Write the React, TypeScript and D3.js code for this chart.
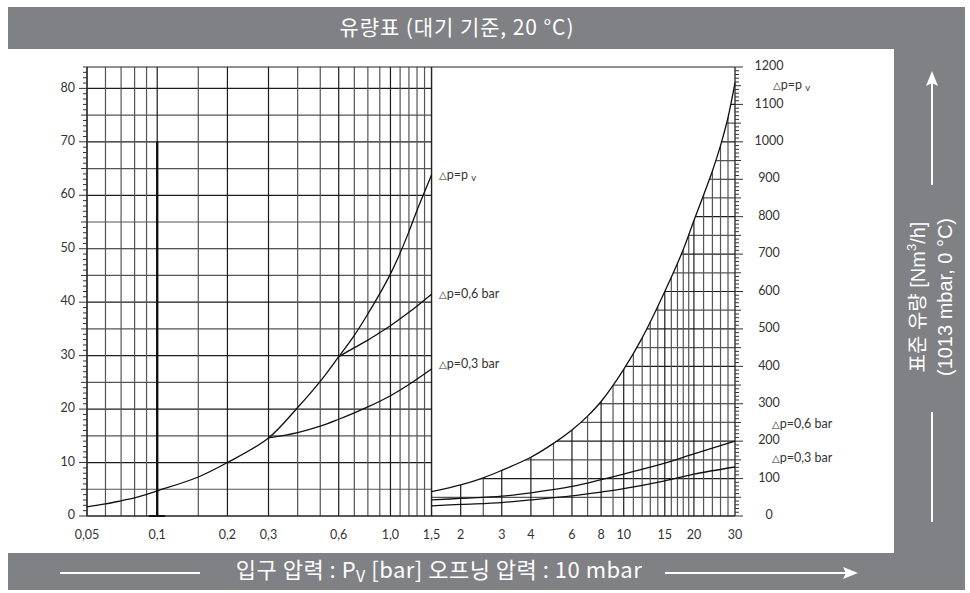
import React from "react";
import * as d3 from "d3";

// ---------- data ----------
const xTickValues = [0.05, 0.1, 0.2, 0.3, 0.6, 1.0, 1.5, 2, 3, 4, 6, 8, 10, 15, 20, 30];
const xTickLabels = ["0,05", "0,1", "0,2", "0,3", "0,6", "1,0", "1,5", "2", "3", "4", "6", "8", "10", "15", "20", "30"];

const leftGridX = [0.05, 0.06, 0.07, 0.08, 0.09, 0.1, 0.15, 0.2, 0.3, 0.4, 0.5, 0.6, 0.7, 0.8, 0.9, 1.0, 1.1, 1.2, 1.3, 1.4, 1.5];
const leftMajorX = [0.1, 0.2, 0.3, 0.6, 1.0];
const rightGridX = [2, 2.5, 3, 4, 5, 6, 7, 8, 9, 10, 11, 12, 13, 14, 15, 16, 17, 18, 19, 20, 22, 24, 26, 28];
const rightMajorX = [2, 3, 4, 6, 8, 10, 15, 20];

const leftYTicks = [0, 10, 20, 30, 40, 50, 60, 70, 80];
const rightYTicks = [0, 100, 200, 300, 400, 500, 600, 700, 800, 900, 1000, 1100, 1200];

// left panel curves (Nm3/h, 0..84 scale)
const leftPvP = [0.05, 0.06, 0.07, 0.08, 0.1, 0.15, 0.2, 0.3, 0.4, 0.5, 0.6, 0.7, 0.8, 0.9, 1.0, 1.1, 1.2, 1.3, 1.5];
const leftPvQ = [1.7, 2.25, 2.85, 3.4, 4.7, 7.3, 10.0, 14.6, 20.3, 25.2, 29.8, 33.8, 37.8, 41.6, 45.3, 49.2, 53.2, 57.2, 63.8];
const left06P = [0.6, 0.7, 0.8, 0.9, 1.0, 1.2, 1.5];
const left06Q = [29.8, 31.5, 32.9, 34.3, 35.6, 38.1, 41.5];
const left03P = [0.3, 0.4, 0.5, 0.6, 0.7, 0.8, 1.0, 1.2, 1.5];
const left03Q = [14.6, 15.6, 16.8, 18.1, 19.3, 20.4, 22.5, 24.6, 27.5];

// right panel curves (Nm3/h, 0..1200 scale)
const rightPvP = [1.5, 2, 2.5, 3, 4, 5, 6, 7, 8, 10, 12, 15, 18, 20, 22, 24, 26, 28, 30];
const rightPvQ = [65, 83, 102, 122, 157, 194, 230, 267, 306, 392, 476, 600, 712, 790, 858, 922, 990, 1065, 1158];
const right06P = [1.5, 2, 3, 4, 6, 8, 10, 15, 20, 30];
const right06Q = [43, 47, 53, 62, 79, 97, 112, 141, 166, 200];
const right03P = [1.5, 2, 3, 4, 6, 8, 10, 15, 20, 30];
const right03Q = [27, 31, 36, 43, 54, 64, 73, 94, 112, 131];

const W = 970;
const H = 593;
const GRAY = "#808185";

export default function App() {
  const x = d3.scaleLog().domain([0.05, 30]).range([87, 735]);
  const yL = d3.scaleLinear().domain([0, 84]).range([516, 67]);
  const yR = d3.scaleLinear().domain([0, 1200]).range([516, 67]);

  const cv = d3.curveCatmullRom.alpha(0.5);
  const lineL = d3
    .line<[number, number]>()
    .x((d) => x(d[0]))
    .y((d) => yL(d[1]))
    .curve(cv);
  const lineR = d3
    .line<[number, number]>()
    .x((d) => x(d[0]))
    .y((d) => yR(d[1]))
    .curve(cv);
  const areaR = d3
    .area<[number, number]>()
    .x((d) => x(d[0]))
    .y0(yR(0))
    .y1((d) => yR(d[1]))
    .curve(cv);

  const zip = (a: number[], b: number[]) => a.map((v, i) => [v, b[i]] as [number, number]);

  const leftMinorY = d3.range(0, 85, 1);
  const rightMinorY = d3.range(0, 1201, 10);
  const leftHGrid = d3.range(5, 81, 5);
  const rightHGrid = d3.range(50, 1200, 50);

  const x0 = x(0.05);
  const x15 = x(1.5);
  const x30 = x(30);
  const yb = yL(0);
  const yt = yL(84);

  const gridDark = "#1c1c1c";
  const gridLight = "#555";
  const txt = "#333";
  const font = "Lato, 'Noto Sans', sans-serif";
  const tri = "\u25B3";
  const barFont = "'Noto Sans CJK KR', 'Noto Sans', sans-serif";

  const curveLabel = (lx: number, ly: number, body: React.ReactNode) => (
    <text x={lx} y={ly} fontSize={12.5} fill={txt} fontFamily={font} dominantBaseline="middle">
      <tspan fontSize={10} fontFamily="'DejaVu Sans'">{tri}</tspan>
      {body}
    </text>
  );

  return (
    <svg width={W} height={H} style={{ position: "absolute", left: 0, top: 0, background: "#fff" }}>
      <defs>
        <clipPath id="underPv">
          <path d={areaR(zip(rightPvP, rightPvQ)) || ""} />
        </clipPath>
      </defs>

      {/* frame bars */}
      <rect x={8} y={7} width={957} height={42} fill={GRAY} />
      <rect x={894} y={49} width={71} height={504} fill={GRAY} />
      <rect x={8} y={553} width={957} height={37} fill={GRAY} />

      <text
        x={457}
        y={29}
        textAnchor="middle"
        dominantBaseline="middle"
        fill="#fff"
        fontSize={21}
        letterSpacing={0.9}
        fontFamily={barFont}
      >
        유량표 (대기 기준, 20 °C)
      </text>

      {/* bottom axis title */}
      <line x1={60} x2={200} y1={573} y2={573} stroke="#fff" strokeWidth={2} />
      <line x1={665} x2={848} y1={573} y2={573} stroke="#fff" strokeWidth={2} />
      <path d="M858,573 L843,567 L846,573 L843,579 Z" fill="#fff" />
      <text
        x={439}
        y={572}
        textAnchor="middle"
        dominantBaseline="middle"
        fill="#fff"
        fontSize={22}
        letterSpacing={0.5}
        fontFamily={barFont}
      >
        입구 압력 : P<tspan fontSize={16} dy={6}>V</tspan>
        <tspan dy={-6}> [bar] 오프닝 압력 : 10 mbar</tspan>
      </text>

      {/* side axis title */}
      <line x1={932} x2={932} y1={185} y2={82} stroke="#fff" strokeWidth={2} />
      <path d="M932,71 L926,86 L932,83 L938,86 Z" fill="#fff" />
      <line x1={932} x2={932} y1={412} y2={522} stroke="#fff" strokeWidth={2} />
      <g transform="translate(920,297) rotate(-90)">
        <text
          textAnchor="middle"
          dominantBaseline="middle"
          fill="#fff"
          fontSize={20}
          fontFamily="'Liberation Sans', 'Noto Sans CJK KR', sans-serif"
        >
          표준 유량 [Nm<tspan fontSize={13} dy={-7}>3</tspan>
          <tspan dy={7}>/h]</tspan>
        </text>
      </g>
      <g transform="translate(947,297) rotate(-90)">
        <text
          textAnchor="middle"
          dominantBaseline="middle"
          fill="#fff"
          fontSize={20}
          fontFamily="'Liberation Sans', 'Noto Sans CJK KR', sans-serif"
        >
          (1013 mbar, 0 °C)
        </text>
      </g>

      {/* left panel grid */}
      {leftHGrid.map((v) => (
        <line key={"lh" + v} x1={x0} x2={x15} y1={yL(v)} y2={yL(v)} stroke={v % 10 === 0 ? gridDark : gridLight} strokeWidth={1.2} />
      ))}
      {leftGridX.map((v) => (
        <line
          key={"lv" + v}
          x1={x(v)}
          x2={x(v)}
          y1={yb}
          y2={yt}
          stroke={leftMajorX.includes(v) ? gridDark : gridLight}
          strokeWidth={1.2}
        />
      ))}

      {/* right panel grid clipped under the pv curve */}
      <g clipPath="url(#underPv)">
        {rightHGrid.map((v) => (
          <line key={"rh" + v} x1={x15} x2={x30} y1={yR(v)} y2={yR(v)} stroke={v % 100 === 0 ? gridDark : gridLight} strokeWidth={1.2} />
        ))}
        {rightGridX.map((v) => (
          <line
            key={"rv" + v}
            x1={x(v)}
            x2={x(v)}
            y1={yb}
            y2={yt}
            stroke={rightMajorX.includes(v) ? gridDark : gridLight}
            strokeWidth={1.2}
          />
        ))}
      </g>

      {/* frame lines */}
      <line x1={x0} x2={x30} y1={yt} y2={yt} stroke="#222" strokeWidth={1.2} />
      <line x1={x0} x2={x30} y1={yb} y2={yb} stroke="#222" strokeWidth={1.3} />
      <line x1={x0} x2={x0} y1={yb} y2={yt} stroke="#222" strokeWidth={1.3} />
      <line x1={x15} x2={x15} y1={yb} y2={yt} stroke="#222" strokeWidth={1.3} />
      <line x1={x30} x2={x30} y1={yb} y2={yt} stroke="#222" strokeWidth={1.3} />

      {/* thick marker at 0.1 */}
      <line x1={x(0.1)} x2={x(0.1)} y1={yb} y2={yL(70)} stroke="#111" strokeWidth={2.4} />
      <line x1={x(0.092)} x2={x(0.108)} y1={yb} y2={yb} stroke="#111" strokeWidth={2} />

      {/* left axis ticks */}
      {leftMinorY.map((v) => {
        const len = v % 10 === 0 ? 8 : v % 5 === 0 ? 6 : 4;
        return <line key={"lt" + v} x1={x0 - len} x2={x0} y1={yL(v)} y2={yL(v)} stroke="#333" strokeWidth={1} />;
      })}
      {leftYTicks.map((v) => (
        <text key={"ll" + v} x={75} y={yL(v)} textAnchor="end" dominantBaseline="middle" fontSize={12.5} fill={txt} fontFamily={font}>
          {v}
        </text>
      ))}

      {/* right axis ticks */}
      {rightMinorY.map((v) => {
        const len = v % 100 === 0 ? 8 : v % 50 === 0 ? 6 : 4;
        return <line key={"rt" + v} x1={x30} x2={x30 + len} y1={yR(v)} y2={yR(v)} stroke="#333" strokeWidth={1} />;
      })}
      {rightYTicks.map((v) => (
        <text key={"rl" + v} x={769} y={yR(v)} textAnchor="middle" dominantBaseline="middle" fontSize={12.5} fill={txt} fontFamily={font}>
          {v}
        </text>
      ))}

      {/* x labels */}
      {xTickValues.map((v, i) => (
        <text key={"xl" + v} x={x(v)} y={536} textAnchor="middle" dominantBaseline="middle" fontSize={12.5} fill={txt} fontFamily={font}>
          {xTickLabels[i]}
        </text>
      ))}

      {/* curves */}
      <g fill="none" stroke="#111" strokeWidth={1.3}>
        <path d={lineL(zip(leftPvP, leftPvQ)) || ""} />
        <path d={lineL(zip(left06P, left06Q)) || ""} />
        <path d={lineL(zip(left03P, left03Q)) || ""} />
        <path d={lineR(zip(rightPvP, rightPvQ)) || ""} />
        <path d={lineR(zip(right06P, right06Q)) || ""} />
        <path d={lineR(zip(right03P, right03Q)) || ""} />
      </g>

      {/* curve labels */}
      {curveLabel(439, 176, <>p=p <tspan fontSize={9.5} dy={3}>v</tspan></>)}
      {curveLabel(439, 295, <>p=0,6 bar</>)}
      {curveLabel(439, 365, <>p=0,3 bar</>)}
      {curveLabel(773, 86, <>p=p <tspan fontSize={9.5} dy={3}>v</tspan></>)}
      {curveLabel(772, 425, <>p=0,6 bar</>)}
      {curveLabel(772, 459, <>p=0,3 bar</>)}
    </svg>
  );
}
